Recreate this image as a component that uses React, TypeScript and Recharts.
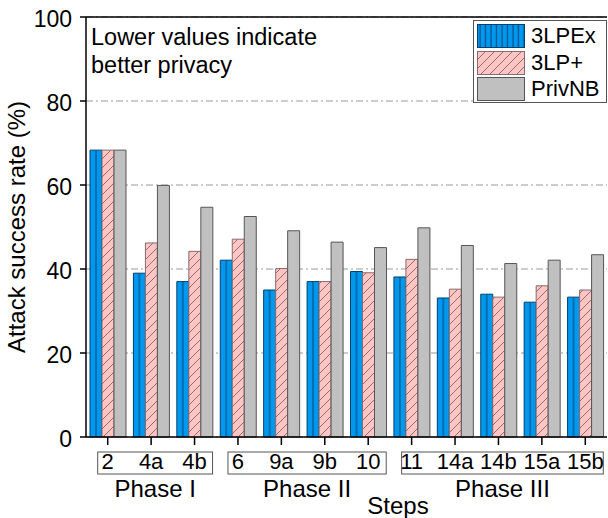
import { BarChart, Bar, XAxis, YAxis, CartesianGrid, Legend, ReferenceLine } from 'recharts';

const steps = ['2', '4a', '4b', '6', '9a', '9b', '10', '11', '14a', '14b', '15a', '15b'];
const phaseNames = ['Phase I', 'Phase II', 'Phase III'];
const phaseOfStep = [0, 0, 0, 1, 1, 1, 1, 2, 2, 2, 2, 2];
const lpex = [68.3, 39.0, 37.0, 42.1, 35.0, 37.0, 39.4, 38.1, 33.1, 34.0, 32.1, 33.3];
const lpplus = [68.3, 46.2, 44.2, 47.1, 40.1, 37.0, 39.1, 42.3, 35.2, 33.3, 36.0, 35.0];
const privnb = [68.3, 59.9, 54.7, 52.5, 49.1, 46.4, 45.1, 49.8, 45.6, 41.3, 42.1, 43.4];
const yTicks = [0, 20, 40, 60, 80, 100];

const data = steps.map((s, i) => ({ step: s, lpex: lpex[i], lpplus: lpplus[i], privnb: privnb[i] }));

const FONT = '"Liberation Sans", Arial, sans-serif';
const BAND = 521 / 12;

const series = [
  { key: 'lpex', name: '3LPEx', fill: 'url(#blueStripe)', swatch: 'url(#blueStripeLeg)', stroke: '#00406e' },
  { key: 'lpplus', name: '3LP+', fill: 'url(#pinkHatch)', swatch: 'url(#pinkHatch)', stroke: '#8a6a6a' },
  { key: 'privnb', name: 'PrivNB', fill: '#c0c0c0', swatch: '#c0c0c0', stroke: '#555555' },
];

// step labels, with a box + phase name drawn at the first step of each phase
const StepTick = (props: any) => {
  const { x, y, payload, index } = props;
  const phase = phaseOfStep[index];
  const first = phaseOfStep.indexOf(phase);
  const last = phaseOfStep.lastIndexOf(phase);
  const box = index === first;
  const boxX = x - 10;
  const boxW = (last - first) * BAND + 28;
  return (
    <g>
      {box && (
        <rect x={boxX} y={y + 5} width={boxW} height={22} fill="none" stroke="#555" strokeWidth={1} />
      )}
      <text x={x} y={y + 22} textAnchor="middle" fontSize={22} fontFamily={FONT} fill="#000">
        {payload.value}
      </text>
      {box && (
        <text x={boxX + boxW / 2} y={y + 50} textAnchor="middle" fontSize={24} fontFamily={FONT} fill="#000">
          {phaseNames[phase]}
        </text>
      )}
    </g>
  );
};

const LegendBox = () => (
  <div style={{ width: 134, height: 83, border: '1px solid #555', background: '#fff', boxSizing: 'border-box', padding: '2px 0 0 3px' }}>
    {series.map((s) => (
      <div key={s.key} style={{ display: 'flex', alignItems: 'center', height: 26.5 }}>
        <svg width={48} height={24} style={{ display: 'block' }}>
          <rect x={0.5} y={0.5} width={47} height={23} fill={s.swatch} stroke={s.stroke} strokeWidth={1} />
        </svg>
        <span style={{ fontFamily: FONT, fontSize: 22, marginLeft: 6, color: '#000', lineHeight: '24px' }}>{s.name}</span>
      </div>
    ))}
  </div>
);

export default function App() {
  return (
    <div style={{ position: 'absolute', left: 0, top: 0, width: 608, height: 518, background: '#fff' }}>
      <svg width={0} height={0} style={{ position: 'absolute' }}>
        <defs>
          <pattern id="blueStripe" patternUnits="objectBoundingBox" patternContentUnits="objectBoundingBox" width={1} height={1}>
            <rect x={0} y={0} width={1} height={1} fill="#0098ee" />
            <rect x={0.46} y={0} width={0.08} height={1} fill="#00406e" />
          </pattern>
          <pattern id="blueStripeLeg" patternUnits="userSpaceOnUse" width={5.5} height={10}>
            <rect x={0} y={0} width={5.5} height={10} fill="#0098ee" />
            <line x1={3} y1={0} x2={3} y2={10} stroke="#00406e" strokeWidth={1} />
          </pattern>
          <pattern id="pinkHatch" patternUnits="userSpaceOnUse" width={9} height={9}>
            <rect x={0} y={0} width={9} height={9} fill="#ffc4c4" />
            <path d="M0,9 L9,0 M-2,2 L2,-2 M7,11 L11,7" stroke="#5a4a4a" strokeWidth={0.7} />
          </pattern>
        </defs>
      </svg>
      <BarChart
        width={608}
        height={518}
        data={data}
        margin={{ top: 17, right: 1, bottom: 51, left: 26 }}
        barCategoryGap={4}
        barGap={0}
      >
        <CartesianGrid vertical={false} stroke="#999" strokeDasharray="7 3 2 3" />
        <XAxis
          dataKey="step"
          tick={<StepTick />}
          tickLine={{ stroke: '#000', strokeWidth: 1.5 }}
          axisLine={{ stroke: '#000', strokeWidth: 1.5 }}
          tickSize={8}
          height={30}
          interval={0}
          label={{
            value: 'Steps',
            content: ({ viewBox }: any) => (
              <text x={398} y={viewBox.y + 77} textAnchor="middle" fontSize={24} fontFamily={FONT} fill="#000">
                Steps
              </text>
            ),
          }}
        />
        <YAxis
          domain={[0, 100]}
          ticks={yTicks}
          width={60}
          tickSize={6}
          tickMargin={8}
          tick={{ fontSize: 23, fontFamily: FONT, fill: '#000', dy: 2 }}
          tickLine={{ stroke: '#000', strokeWidth: 1.5 }}
          axisLine={{ stroke: '#000', strokeWidth: 1.5 }}
          label={{
            value: 'Attack success rate (%)',
            content: ({ viewBox }: any) => (
              <text
                x={25}
                y={viewBox.y + viewBox.height / 2}
                transform={`rotate(-90 25 ${viewBox.y + viewBox.height / 2})`}
                textAnchor="middle"
                fontSize={24}
                fontFamily={FONT}
                fill="#000"
              >
                Attack success rate (%)
              </text>
            ),
          }}
        />
        <YAxis yAxisId="frame" orientation="right" width={0} tick={false} tickLine={false} axisLine={{ stroke: '#000', strokeWidth: 1.5 }} />
        <ReferenceLine y={100} stroke="#000" strokeWidth={1.5} />
        {series.map((s) => (
          <Bar key={s.key} dataKey={s.key} name={s.name} fill={s.fill} stroke={s.stroke} strokeWidth={1} isAnimationActive={false} />
        ))}
        <Legend
          layout="vertical"
          align="center"
          verticalAlign="middle"
          content={<LegendBox />}
          wrapperStyle={{ position: 'absolute', left: 473, top: 20, width: 134, height: 83 }}
        />
      </BarChart>
      <div style={{ position: 'absolute', left: 91, top: 23, fontFamily: FONT, fontSize: 23.5, lineHeight: '28px', color: '#000' }}>
        Lower values indicate
        <br />
        better privacy
      </div>
    </div>
  );
}
